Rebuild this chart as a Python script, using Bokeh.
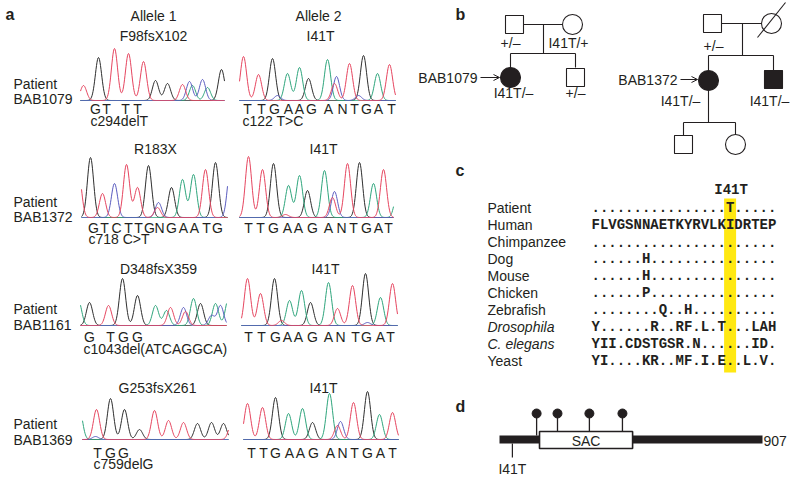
import numpy as np
from bokeh.plotting import figure
from bokeh.models import Range1d, Arrow, OpenHead
from bokeh.core.properties import value
from bokeh.embed import file_html
from bokeh.resources import INLINE

INK = "#231f20"
SANS = "Liberation Sans"
MONO = "Liberation Mono"
TRACE_COLORS = {"G": "#2e2e2e", "A": "#2ea57c", "C": "#5a5cc0", "T": "#e6455f"}

# ------------------------------------------------------------------ data: panel a
ALLELE_TITLES = ["Allele 1", "Allele 2"]
PATIENT_IDS = ["BAB1079", "BAB1372", "BAB1161", "BAB1369"]
ALLELE1_PROTEIN = ["F98fsX102", "R183X", "D348fsX359", "G253fsX261"]
ALLELE2_PROTEIN = ["I41T", "I41T", "I41T", "I41T"]
ALLELE1_CDNA = ["c294delT", "c718 C>T", "c1043del(ATCAGGCA)", "c759delG"]
ALLELE2_CDNA = ["c122 T>C", "", "", ""]

# chromatogram peaks: (base, trace position, signal)
PEAKS_ALLELE1 = [
    [("T", 83, 15), ("G", 98, 43), ("T", 114, 52), ("T", 128, 47), ("T", 143, 39),
     ("G", 155, 20), ("G", 167, 17), ("T", 182, 16), ("C", 189, 19), ("A", 192, 15),
     ("C", 202, 21), ("A", 207, 13), ("G", 221, 31)],
    [("T", 78, 45), ("G", 90, 60), ("T", 102, 24), ("C", 114, 34), ("T", 126, 53),
     ("T", 137, 30), ("G", 148, 52), ("T", 157, 10), ("C", 158, 15), ("G", 171, 30),
     ("A", 182, 38), ("A", 193, 43), ("T", 205, 48), ("G", 215, 55), ("C", 230, 50)],
    [("A", 78, 25), ("G", 89, 23), ("T", 108, 20), ("G", 122, 47), ("G", 137, 30),
     ("A", 155, 20), ("A", 166, 15), ("T", 170, 18), ("C", 183, 18), ("T", 185, 14),
     ("A", 193, 27), ("G", 200, 22), ("C", 211, 10), ("A", 215, 22), ("C", 220, 20),
     ("A", 228, 27)],
    [("A", 79, 30), ("C", 95, 3), ("T", 96, 30), ("G", 110, 41), ("G", 124, 30),
     ("G", 139, 10), ("T", 154, 29), ("T", 168, 19), ("T", 183, 17), ("G", 197, 16),
     ("G", 211, 17), ("G", 223, 16), ("T", 231, 15)],
]
PEAKS_ALLELE2 = [
    [("T", 243, 44), ("T", 258, 26), ("G", 272, 42), ("C", 277, 5), ("A", 287, 27),
     ("A", 299, 33), ("G", 308, 22), ("A", 327, 41), ("T", 334, 17), ("C", 336, 24),
     ("T", 349, 37), ("C", 358, 5), ("G", 363, 45), ("A", 377, 27), ("T", 389, 36)],
    [("T", 248, 61), ("T", 262, 48), ("G", 273, 54), ("T", 285, 3), ("A", 288, 32),
     ("A", 299, 42), ("G", 307, 27), ("A", 324, 47), ("T", 332, 20), ("C", 334, 26),
     ("T", 347, 54), ("G", 359, 55), ("A", 373, 34), ("T", 383, 48), ("A", 397, 25)],
    [("T", 247, 47), ("T", 260, 32), ("G", 274, 47), ("T", 281, 5), ("A", 289, 25),
     ("A", 301, 35), ("G", 310, 23), ("A", 328, 43), ("T", 337, 17), ("T", 352, 40),
     ("G", 365, 52), ("C", 367, 3), ("A", 380, 28), ("T", 392, 42)],
    [("T", 247, 36), ("T", 262, 32), ("G", 275, 42), ("A", 288, 26), ("A", 302, 31),
     ("G", 312, 17), ("A", 329, 46), ("T", 337, 14), ("C", 340, 18), ("T", 353, 37),
     ("G", 367, 48), ("A", 379, 25), ("T", 392, 27)],
]
# base calls: (letters, positions along trace)
CALLS_ALLELE1 = [
    ("GTTT", [95, 106, 125, 137]),
    ("GTCTTGNGAATG", [93, 104, 116, 128, 138, 149, 159, 171, 183, 194, 206, 217]),
    ("GTGG", [89, 110, 123, 137]),
    ("TGG", [97, 110, 123]),
]
CALLS_ALLELE2 = [
    ("TTGAAGANTGAT", [247, 261, 274, 288, 299, 311, 328, 342, 354, 366, 378, 391]),
    ("TTGAAGANTGAT", [248, 260, 273, 287, 298, 312, 328, 341, 353, 366, 378, 388]),
    ("TTGAAGANTGAT", [248, 261, 275, 287, 298, 312, 328, 340, 355, 366, 380, 390]),
    ("TTGAAGANTGAT", [251, 263, 275, 289, 300, 313, 330, 342, 354, 367, 380, 392]),
]

# ------------------------------------------------------------------ data: panel c
SPECIES = ["Patient", "Human", "Chimpanzee", "Dog", "Mouse", "Chicken", "Zebrafish",
           "Drosophila", "C. elegans", "Yeast"]
SPECIES_ITALIC = [False, False, False, False, False, False, False, True, True, False]
SEQUENCES = [
    "................T.....",
    "FLVGSNNAETKYRVLKIDRTEP",
    "......................",
    "......H...............",
    "......H...............",
    "......P...............",
    "........Q..H..........",
    "Y......R..RF.L.T...LAH",
    "YII.CDSTGSR.N......ID.",
    "YI....KR..MF.I.E..L.V.",
]
VARIANT_LABEL = "I41T"
VARIANT_COLUMN = 16

# ------------------------------------------------------------------ data: panel d
PROTEIN_LENGTH = 907
SAC_DOMAIN = (138, 459)
VARIANT_RESIDUE = 41
SITE_RESIDUES = [128, 200, 310, 424]

# ------------------------------------------------------------------ layout
p = figure(width=800, height=482, x_range=Range1d(0, 800), y_range=Range1d(482, 0),
           output_backend="svg", toolbar_location=None, min_border=0)
p.axis.visible = False
p.grid.visible = False
p.outline_line_color = None
p.background_fill_color = "white"


def label(x, y, s, size=14, align="center", style="normal", font=SANS, color=INK):
    p.text(x=[x], y=[y], text=[s], text_font=value(font), text_font_size=f"{size}px",
           text_align=align, text_baseline="middle", text_font_style=style,
           text_color=color)


# panel a ----------------------------------------------------------------------
ROW_BASELINE = [100, 217, 325, 439]
A1_SPAN = [(80, 224), (81, 227), (80, 226), (82, 228)]
A2_SPAN = [(239, 395), (239, 393), (241, 397), (243, 398)]
TITLE_Y = [35, 148, 268, 387]
A1_TITLE_X = [153, 155, 158, 157]
A2_TITLE_X = [320, 323, 325, 323]
PATIENT_Y = [(83, 98), (201, 216), (308, 324), (423, 439)]
CALL_Y = [108, 227, 336, 452]
CDNA_Y = [120, 238, 348, 463]
A1_CDNA_X = [90, 88, 83, 93]
A2_CDNA_X = 242
SIGMA = 3.1


def draw_trace(peaks, span, base):
    xs = np.arange(span[0], span[1] + 0.01, 0.5)
    for ch in ["G", "A", "C", "T"]:
        ys = np.zeros_like(xs)
        for b, c, h in peaks:
            if b == ch:
                ys = ys + h * np.exp(-0.5 * ((xs - c) / SIGMA) ** 2)
        p.line(xs, base - ys, line_color=TRACE_COLORS[ch], line_width=1)


label(5, 14, "a", size=16, align="left", style="bold")
label(153, 15, ALLELE_TITLES[0])
label(318, 15, ALLELE_TITLES[1])
for r in range(4):
    draw_trace(PEAKS_ALLELE1[r], A1_SPAN[r], ROW_BASELINE[r])
    draw_trace(PEAKS_ALLELE2[r], A2_SPAN[r], ROW_BASELINE[r])
    label(A1_TITLE_X[r], TITLE_Y[r], ALLELE1_PROTEIN[r])
    label(A2_TITLE_X[r], TITLE_Y[r], ALLELE2_PROTEIN[r])
    label(13, PATIENT_Y[r][0], "Patient", align="left")
    label(13, PATIENT_Y[r][1], PATIENT_IDS[r], align="left")
    for calls in (CALLS_ALLELE1[r], CALLS_ALLELE2[r]):
        letters, xs = calls
        p.text(x=xs, y=[CALL_Y[r]] * len(xs), text=list(letters), text_font=value(SANS),
               text_font_size="14px", text_align="center", text_baseline="middle",
               text_color=INK)
    label(A1_CDNA_X[r], CDNA_Y[r], ALLELE1_CDNA[r], align="left")
    if ALLELE2_CDNA[r]:
        label(A2_CDNA_X, CDNA_Y[r], ALLELE2_CDNA[r], align="left")

# panel b ----------------------------------------------------------------------
label(455, 14, "b", size=16, align="left", style="bold")
LW = 1.1
segs = [
    # pedigree BAB1079
    (523, 24, 562, 24), (543, 24, 543, 53), (510, 53, 575, 53),
    (510, 53, 510, 67), (575, 53, 575, 67),
    # pedigree BAB1372
    (721, 23, 761, 23), (742, 23, 742, 55), (708, 55, 773, 55),
    (708, 55, 708, 70), (773, 55, 773, 70), (708, 90, 708, 122),
    (683, 122, 735, 122), (683, 122, 683, 135), (735, 122, 735, 135),
]
p.segment(x0=[s[0] for s in segs], y0=[s[1] for s in segs],
          x1=[s[2] for s in segs], y1=[s[3] for s in segs], line_color=INK, line_width=LW)
squares = [(514, 24, False), (575, 77, False), (712, 23, False), (773, 79, True), (683, 144, False)]
circles = [(572, 24, False), (510, 77, True), (771, 23, False), (708, 80, True), (735, 144, False)]
p.rect(x=[s[0] for s in squares], y=[s[1] for s in squares], width=18, height=18,
       fill_color=[INK if s[2] else "white" for s in squares], line_color=INK, line_width=LW)
p.ellipse(x=[c[0] for c in circles], y=[c[1] for c in circles], width=20, height=20,
          fill_color=[INK if c[2] else "white" for c in circles], line_color=INK, line_width=LW)
p.segment(x0=[757], y0=[37], x1=[785], y1=[2], line_color=INK, line_width=LW)
label(510, 42, "+/–")
label(568, 42, "I41T/+")
label(513, 92, "I41T/–")
label(575, 92, "+/–")
label(477, 77, "BAB1079", align="right")
label(713, 45, "+/–")
label(680, 100, "I41T/–")
label(769, 100, "I41T/–")
label(677, 79, "BAB1372", align="right")
for (xa, xb, ya) in [(480, 499, 77), (680, 697, 79)]:
    p.add_layout(Arrow(end=OpenHead(size=6, line_color=INK, line_width=1), x_start=xa,
                       y_start=ya, x_end=xb, y_end=ya, line_color=INK, line_width=1))

# panel c ----------------------------------------------------------------------
label(455, 170, "c", size=16, align="left", style="bold")
SEQ_X0 = 591.0
PITCH = 8.4
ROW_Y0, ROW_DY = 207.0, 17.1
col_x = SEQ_X0 + (VARIANT_COLUMN + 0.5) * PITCH
p.rect(x=[col_x], y=[(198 + 372) / 2], width=12, height=174, fill_color="#ffe812",
       line_color=None)
label(col_x + 1, 189, VARIANT_LABEL, font=MONO, style="bold")
for i, (sp, seq, it) in enumerate(zip(SPECIES, SEQUENCES, SPECIES_ITALIC)):
    y = ROW_Y0 + i * ROW_DY
    label(487, y, sp, align="left", style="italic" if it else "normal")
    label(SEQ_X0, y, seq, align="left", font=MONO, style="bold")

# panel d ----------------------------------------------------------------------
label(455, 406, "d", size=16, align="left", style="bold")
BAR_X0, BAR_X1 = 499.0, 762.0
scale = (BAR_X1 - BAR_X0) / PROTEIN_LENGTH


def aa(r):
    return BAR_X0 + r * scale


p.quad(left=[aa(0)], right=[aa(PROTEIN_LENGTH)], top=[435], bottom=[443],
       fill_color=INK, line_color=None)
site_x = [aa(r) for r in SITE_RESIDUES]
stem_end = [435 if (x < aa(SAC_DOMAIN[0])) else 431 for x in site_x]
p.segment(x0=site_x, y0=[413] * len(site_x), x1=site_x, y1=stem_end, line_color=INK,
          line_width=1.3)
p.quad(left=[aa(SAC_DOMAIN[0])], right=[aa(SAC_DOMAIN[1])], top=[431], bottom=[448],
       fill_color="white", line_color=INK, line_width=1.6)
p.ellipse(x=site_x, y=[413] * len(site_x), width=9, height=9, fill_color=INK, line_color=INK)
label((aa(SAC_DOMAIN[0]) + aa(SAC_DOMAIN[1])) / 2, 440, "SAC")
label(aa(PROTEIN_LENGTH) + 1, 440, str(PROTEIN_LENGTH), align="left")
vx = aa(VARIANT_RESIDUE) + 1
p.segment(x0=[vx], y0=[443], x1=[vx], y1=[457], line_color=INK, line_width=1.2)
label(vx, 468, VARIANT_LABEL)

open("out.html", "w").write(file_html(p, INLINE))
